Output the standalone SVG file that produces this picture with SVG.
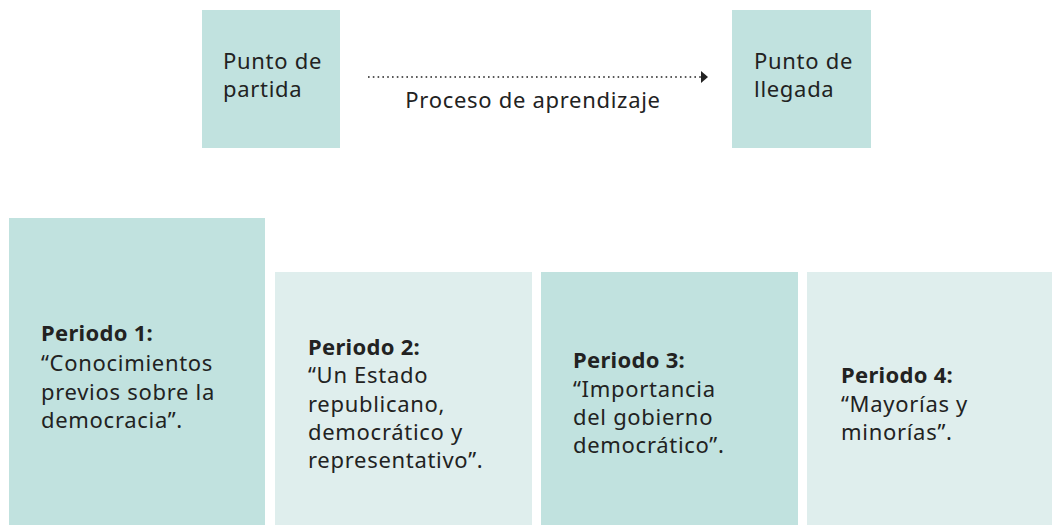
<svg xmlns="http://www.w3.org/2000/svg" width="1052" height="525" viewBox="0 0 1052 525">
<style>
.dark{fill:#c1e2df}
.light{fill:#dfeeed}
text{font-family:"Noto Sans","Open Sans",sans-serif;font-size:22px;letter-spacing:0.7px;fill:#222}
.b{font-weight:bold;letter-spacing:0.3px}
</style>
<defs>
<marker id="arr" markerWidth="8" markerHeight="12" refX="0" refY="6" orient="auto" markerUnits="userSpaceOnUse">
<path d="M0,0 L7,6 L0,12 Z" fill="#222"/>
</marker>
</defs>
<rect width="1052" height="525" fill="#fff"/>
<g id="partida">
<rect class="dark" x="202" y="10" width="138" height="138"/>
<text x="223" y="69">Punto de</text>
<text x="223" y="97">partida</text>
</g>
<g id="llegada">
<rect class="dark" x="732" y="10" width="139" height="138"/>
<text x="754" y="69">Punto de</text>
<text x="754" y="97">llegada</text>
</g>
<g id="connectors">
<line x1="368" y1="77" x2="701" y2="77" stroke="#222" stroke-width="1.6" stroke-dasharray="1.6 3.2" marker-end="url(#arr)"/>
<text x="533" y="108" text-anchor="middle">Proceso de aprendizaje</text>
</g>
<g id="periodo1">
<rect class="dark" x="9" y="218" width="256" height="307"/>
<text x="41" y="341" class="b">Periodo 1:</text>
<text x="41" y="371">“Conocimientos</text>
<text x="41" y="400">previos sobre la</text>
<text x="41" y="428">democracia”.</text>
</g>
<g id="periodo2">
<rect class="light" x="275" y="272" width="257" height="253"/>
<text x="308" y="355" class="b">Periodo 2:</text>
<text x="308" y="383">“Un Estado</text>
<text x="308" y="412">republicano,</text>
<text x="308" y="440">democrático y</text>
<text x="308" y="468">representativo”.</text>
</g>
<g id="periodo3">
<rect class="dark" x="541" y="272" width="257" height="253"/>
<text x="573" y="368" class="b">Periodo 3:</text>
<text x="573" y="397">“Importancia</text>
<text x="573" y="425">del gobierno</text>
<text x="573" y="453">democrático”.</text>
</g>
<g id="periodo4">
<rect class="light" x="807" y="272" width="245" height="253"/>
<text x="841" y="383" class="b">Periodo 4:</text>
<text x="841" y="412">“Mayorías y</text>
<text x="841" y="440">minorías”.</text>
</g>
</svg>
